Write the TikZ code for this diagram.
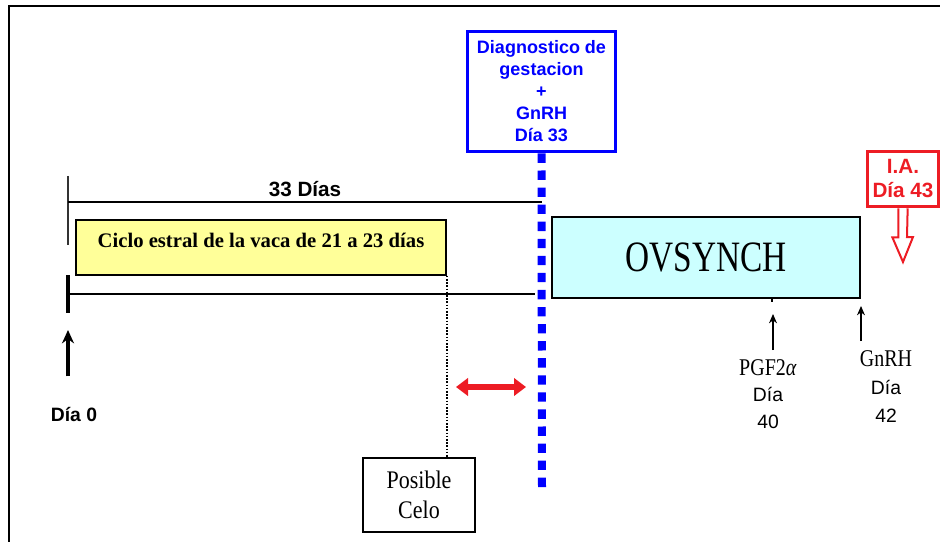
\documentclass[tikz,border=0pt]{standalone}
\usepackage{fontspec}
\setmainfont{Liberation Serif}
\setsansfont{Liberation Sans}
\usetikzlibrary{arrows.meta}

\definecolor{azulDiag}{RGB}{0,0,255}
\definecolor{rojoIA}{RGB}{237,28,36}
\definecolor{amarilloCiclo}{RGB}{255,255,153}
\definecolor{celesteOvs}{RGB}{204,255,255}

\begin{document}
\begin{tikzpicture}[x=0.75pt,y=-0.75pt]

      \tikzstyle{TimeBlock} = [
      rectangle,
      draw=black,
      line width=1.1pt,
      text centered,
      inner sep=0pt
      ]

      \tikzstyle{MarkBlock} = [
      rectangle,
      line width=2.4pt,
      align=center,
      inner sep=0pt,
      font=\sffamily\bfseries
      ]

      \useasboundingbox (0,0) rectangle (940,542);
      \draw [line width=1.1pt] (940,6) -- (9,6) -- (9,542);

      \node (Diagnostico) [MarkBlock, draw=azulDiag, text=azulDiag,
        minimum width=111pt, minimum height=90.5pt,
        font=\sffamily\bfseries\fontsize{13.5}{16.5}\selectfont]
      at (541.5,91.5) {
        Diagnostico de\\
        gestacion\\
        +\\
        GnRH\\
        Día 33
      };

      \node (IA) [MarkBlock, draw=rojoIA, text=rojoIA,
        minimum width=53.5pt, minimum height=41.5pt,
        font=\sffamily\bfseries\fontsize{15.5}{18}\selectfont]
      at (903,179) {
        I.A.\\
        Día 43
      };

      \node (Ciclo) [TimeBlock, fill=amarilloCiclo,
        minimum width=277.5pt, minimum height=41.25pt] at (261,247.5) {};
      \node (CicloTexto) [font=\bfseries\fontsize{15.5}{18}\selectfont]
      at ([yshift=-16pt] Ciclo.north) {Ciclo estral de la vaca de 21 a 23 días};

      \node (Ovsynch) [TimeBlock, fill=celesteOvs,
        minimum width=231pt, minimum height=60.75pt,
        font=\fontsize{25}{30}\selectfont] at (706,257.5) {\scalebox{1}[1.3]{OVSYNCH}};

      \node (Posible) [TimeBlock, line width=0.8pt, align=center,
        minimum width=84pt, minimum height=55.5pt,
        font=\fontsize{16.5}{22}\selectfont] at (419,495) {
        \scalebox{1}[1.15]{Posible}\\
        \scalebox{1}[1.15]{Celo}
      };

      \coordinate (Dia0Alto) at (68,176);
      \coordinate (Dia0Bajo) at (68,245);
      \coordinate (Dia33Alto) at (542,202);
      \coordinate (LineaIni) at (68,294);
      \coordinate (LineaFin) at (535,294);
      \coordinate (Dia33Bajo) at (542,488);

      \draw [line width=0.9pt, black!80] (Dia0Alto) -- (Dia0Bajo);
      \draw [line width=0.9pt] (Dia0Alto |- Dia33Alto) -- node[anchor=south, font=\sffamily\bfseries\fontsize{15.5}{18}\selectfont]{33 Días} (Dia33Alto);

      \draw [line width=1.6pt] (LineaIni) -- (LineaFin);
      \draw [line width=2.6pt] ([yshift=-14pt] LineaIni) -- ([yshift=14pt] LineaIni);

      \node (Dia0) [font=\sffamily\bfseries\fontsize{14.5}{17}\selectfont] at (74,415) {Día 0};
      \draw [-{Stealth[length=10pt,width=9pt]}, line width=2.4pt] ([yshift=20pt] Dia0.north -| LineaIni) -- ([yshift=-27pt] LineaIni);

      \draw [azulDiag, line width=6pt, dash pattern=on 7pt off 5.8pt] (Diagnostico.south) -- (Dia33Bajo);
      \draw [line width=1.3pt, dash pattern=on 1.2pt off 1.2pt] (Ciclo.south east) -- (Ciclo.south east |- Posible.north);
      \draw [{Triangle[length=9pt,width=13pt]}-{Triangle[length=9pt,width=13pt]}, rojoIA, line width=4.5pt] (456,387) -- (526,387);

      \node (Pgf) [align=center, font=\sffamily\fontsize{14.5}{20}\selectfont] at (768,394) {
        {\rmfamily\fontsize{15}{20}\selectfont\scalebox{1}[1.2]{PGF2\textit{α}}}\\
        Día\\
        40
      };
      \node (GnRH) [align=center, font=\sffamily\fontsize{14.5}{21}\selectfont] at (886,387) {
        {\rmfamily\fontsize{15}{21}\selectfont\scalebox{1}[1.2]{GnRH}}\\
        Día\\
        42
      };

      \draw [line width=0.8pt] (772,298) -- (772,302);
      \draw [-{Stealth[length=7pt,width=6pt]}, line width=0.8pt] (773,350) -- (773,314);
      \draw [-{Stealth[length=7pt,width=6pt]}, line width=0.8pt] (861,341) -- (861,306);

      \draw [rojoIA, line width=1.5pt, fill=white] ([xshift=-3.5pt] IA.south) -- ++(0,29) -- ++(-6,0) -- (903,262) -- (913,237) -- ++(-6,0) -- ([xshift=3.5pt] IA.south);

    \end{tikzpicture}
\end{document}
